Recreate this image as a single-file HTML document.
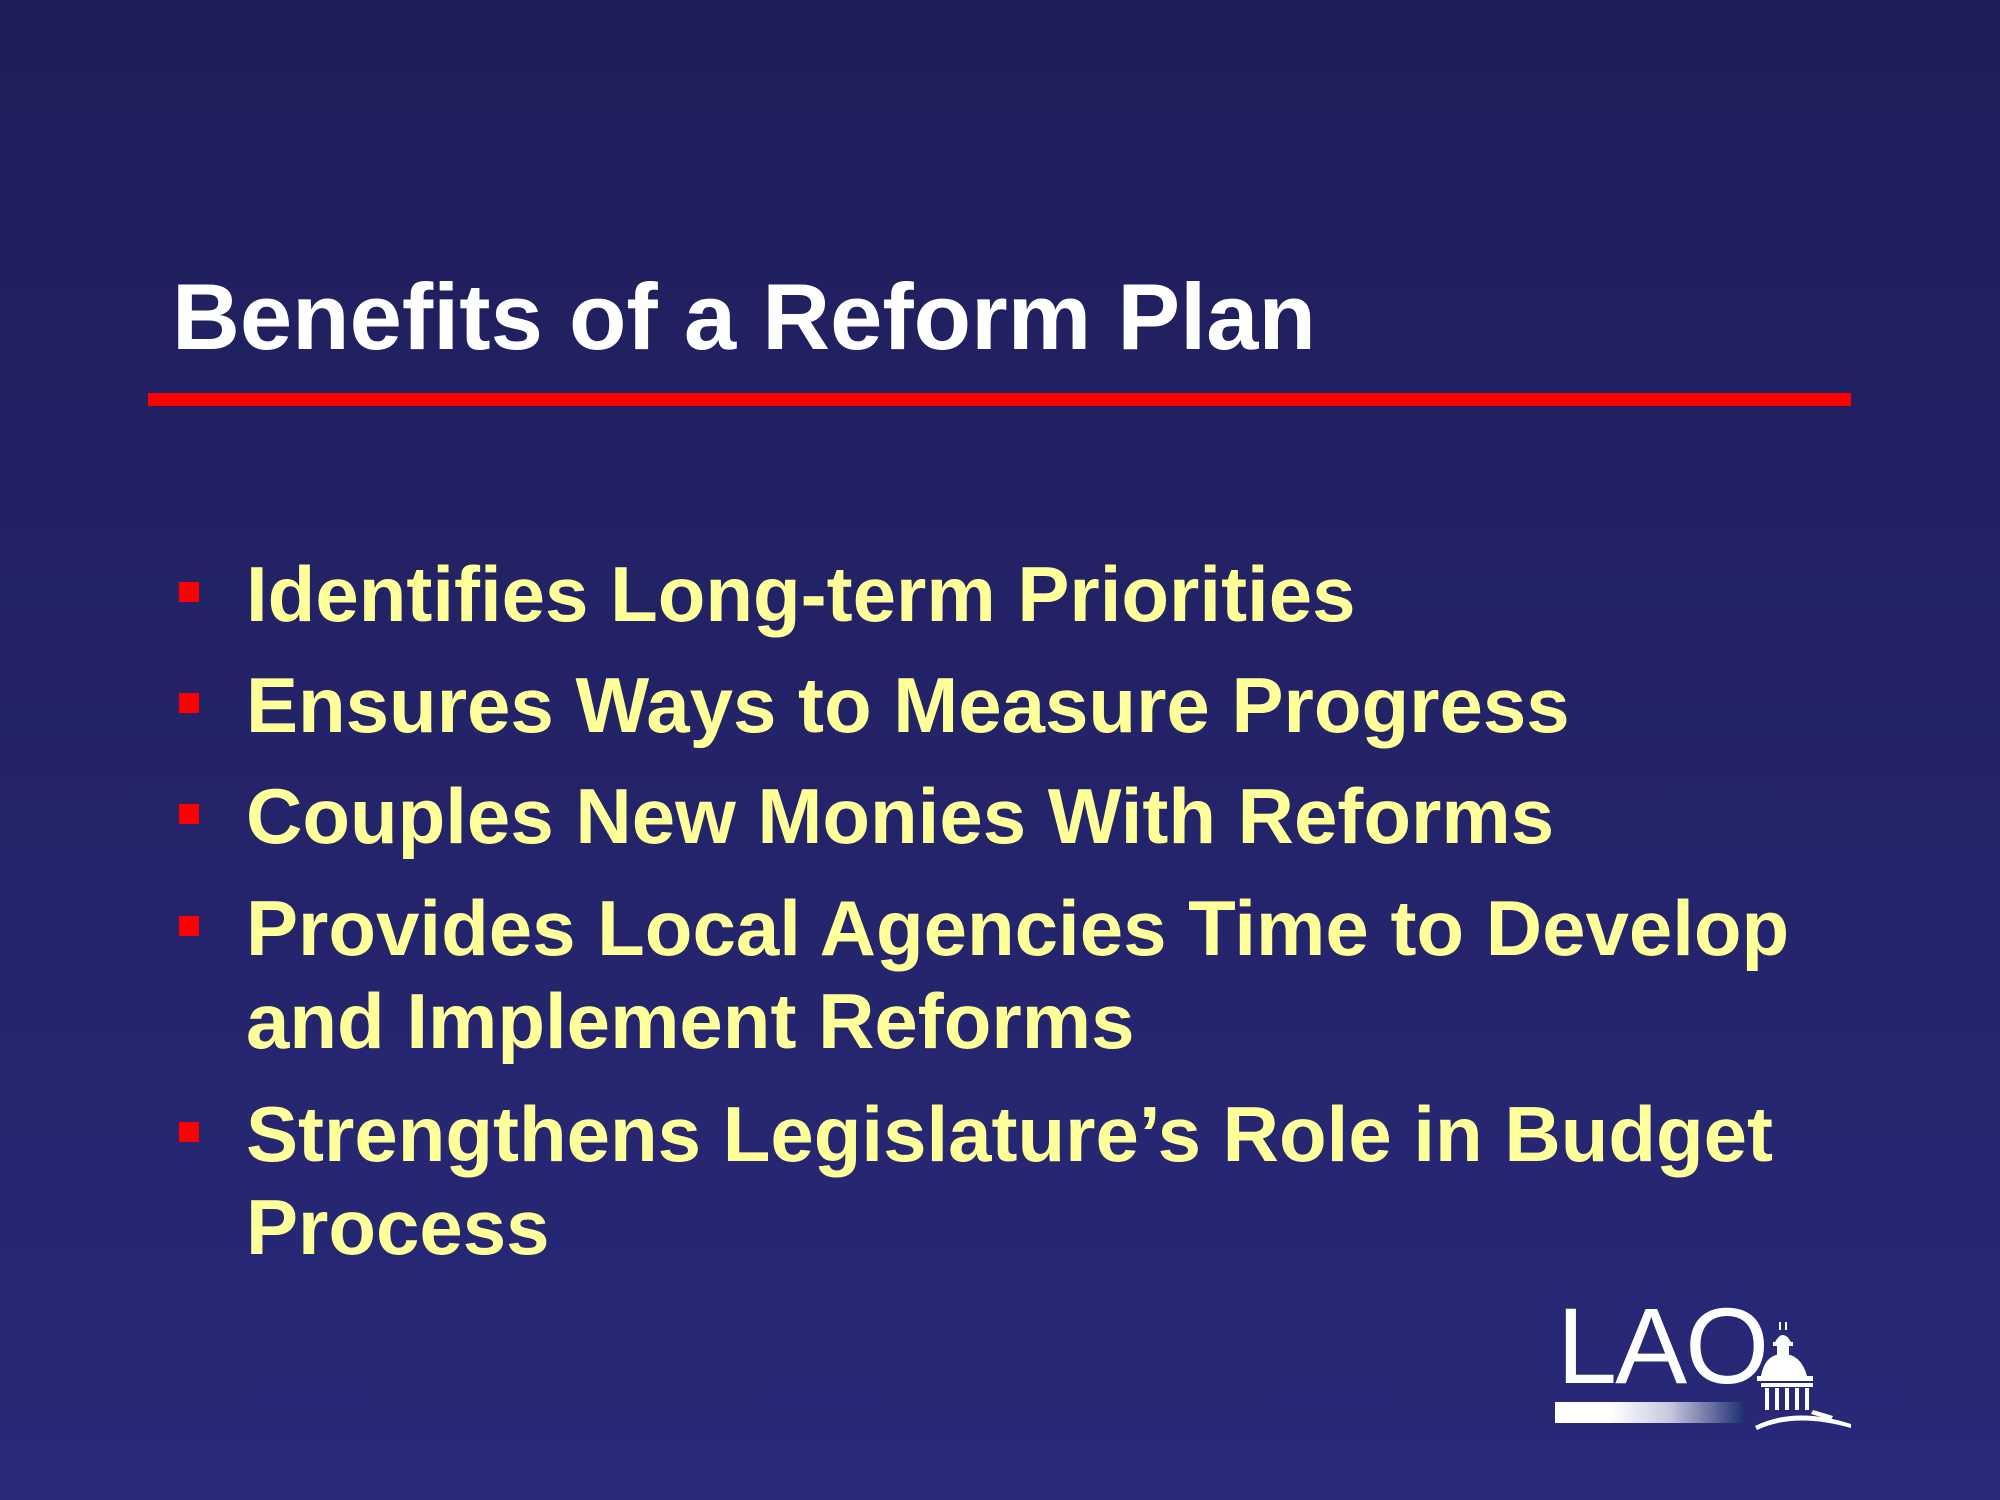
<!DOCTYPE html>
<html><head><meta charset="utf-8"><style>
html,body{margin:0;padding:0}
body{width:2000px;height:1500px;position:relative;overflow:hidden;background:linear-gradient(#1f1d59,#282979);font-family:"Liberation Sans",sans-serif}
.t{position:absolute;left:172px;top:270px;font-size:94px;font-weight:bold;color:#fff;line-height:1;white-space:nowrap}
.rule{position:absolute;left:148px;top:393px;width:1703px;height:13px;background:#ff0000}
.b{position:absolute;left:246px;font-size:78px;font-weight:bold;color:#ffff99;line-height:1;white-space:nowrap}
.sq{position:absolute;left:179px;width:20px;height:20px;background:#ff0000}
.lao{position:absolute;left:1557px;top:1292px;font-size:108px;color:#fff;line-height:1;letter-spacing:-2px}
.bar{position:absolute;left:1555px;top:1402px;width:190px;height:21px;background:linear-gradient(90deg,#fff 0%,#fff 30%,#c8c8e0 60%,#1c2c6e 100%)}
</style></head><body>
<div class="t">Benefits of a Reform Plan</div>
<div class="rule"></div>

<div class="sq" style="top:582px"></div>
<div class="b" style="top:555px">Identifies Long-term Priorities</div>
<div class="sq" style="top:693px"></div>
<div class="b" style="top:666px">Ensures Ways to Measure Progress</div>
<div class="sq" style="top:804px"></div>
<div class="b" style="top:777px">Couples New Monies With Reforms</div>
<div class="sq" style="top:916px"></div>
<div class="b" style="top:889px">Provides Local Agencies Time to Develop</div>
<div class="b" style="top:982px">and Implement Reforms</div>
<div class="sq" style="top:1122px"></div>
<div class="b" style="top:1095px">Strengthens Legislature’s Role in Budget</div>
<div class="b" style="top:1188px">Process</div>

<div class="lao">LAO</div>
<div class="bar"></div>
<svg style="position:absolute;left:1755px;top:1320px" width="100" height="115" viewBox="0 0 100 115">
<g fill="#fff">
<rect x="24" y="2" width="2" height="8"/><rect x="30" y="2" width="2" height="8"/>
<path d="M20 22 Q28 8 36 22 Z"/><rect x="18" y="22" width="20" height="4"/>
<rect x="22" y="26" width="12" height="12"/>
<path d="M6 56 Q10 34 28 34 Q46 34 52 56 Z"/>
<rect x="2" y="56" width="56" height="5"/><rect x="6" y="63" width="52" height="4"/>
<rect x="10" y="68" width="4" height="22"/><rect x="20" y="68" width="4" height="22"/><rect x="30" y="68" width="4" height="22"/><rect x="40" y="68" width="4" height="22"/><rect x="50" y="68" width="4" height="22"/>
<path d="M0 106 Q40 86 96 104 L96 108 Q40 92 2 110 Z"/>
<path d="M58 90 L78 96 L76 100 L56 94 Z"/>
</g></svg>
</body></html>
